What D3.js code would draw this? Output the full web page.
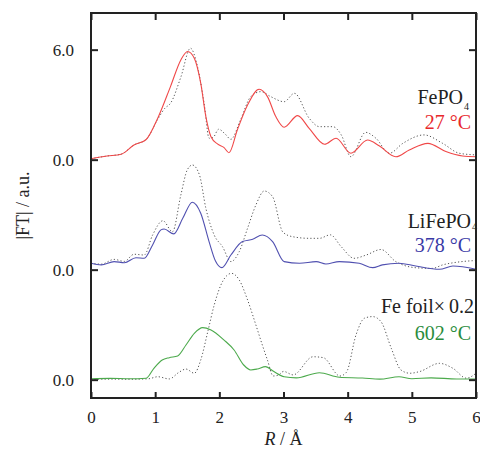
<!DOCTYPE html>
<html>
<head>
<meta charset="utf-8">
<script src="https://cdn.jsdelivr.net/npm/d3@7"></script>
<style>
  html, body { margin: 0; padding: 0; background: #fff; }
</style>
</head>
<body>
<svg id="chart" width="480" height="450"></svg>
<script>
// Fourier-transformed EXAFS magnitudes, stacked with vertical offsets.
// Solid: measured spectra; dotted: reference compounds.
const offsets = [12, 6, 0];

const fepoR   = [0, 0.25, 0.47, 0.67, 0.86, 1.04, 1.24, 1.4, 1.505, 1.61, 1.71, 1.79, 1.87, 1.97, 2.07, 2.15, 2.28, 2.44, 2.62, 2.75, 2.88, 3.01, 3.22, 3.4, 3.64, 3.82, 4.05, 4.31, 4.49, 4.75, 4.96, 5.25, 5.53, 5.79, 6.0];
const fepoVal = [0.05, 0.2, 0.3, 0.8, 1.1, 2.26, 4.0, 5.44, 5.9, 5.53, 4.17, 2.35, 1.25, 0.86, 0.67, 0.38, 1.62, 2.98, 3.84, 3.44, 2.35, 1.77, 2.4, 1.71, 0.84, 1.17, 0.35, 1.07, 0.76, 0.16, 0.53, 0.89, 0.44, 0.2, 0.16];

const fepoRefR   = [0, 0.25, 0.47, 0.67, 0.86, 1.04, 1.15, 1.24, 1.4, 1.55, 1.66, 1.77, 1.84, 1.9, 1.99, 2.09, 2.18, 2.33, 2.49, 2.65, 2.8, 3.01, 3.17, 3.4, 3.56, 3.77, 3.9, 4.05, 4.28, 4.44, 4.65, 4.86, 5.19, 5.48, 5.74, 6.0];
const fepoRefVal = [0.05, 0.2, 0.3, 0.8, 1.1, 2.2, 2.8, 3.08, 4.5, 6.08, 5.07, 2.9, 1.17, 1.2, 1.66, 1.4, 1.11, 2.17, 3.44, 3.71, 3.44, 3.16, 3.62, 2.26, 1.8, 1.8, 1.35, 0.16, 1.49, 1.17, 0.35, 0.89, 1.35, 0.89, 0.35, 0.26];

const lfpR   = [0, 0.16, 0.36, 0.52, 0.7, 0.83, 0.96, 1.09, 1.14, 1.29, 1.43, 1.58, 1.71, 1.84, 1.94, 2.04, 2.18, 2.36, 2.52, 2.67, 2.83, 3.01, 3.25, 3.51, 3.66, 3.87, 4.18, 4.39, 4.54, 4.8, 5.06, 5.43, 5.64, 6.0];
const lfpVal = [0.35, 0.26, 0.44, 0.38, 0.65, 0.62, 1.35, 2.17, 2.22, 1.95, 2.8, 3.68, 3.08, 1.53, 0.47, 0.11, 0.8, 1.53, 1.66, 1.89, 1.53, 0.44, 0.35, 0.44, 0.31, 0.44, 0.35, 0.11, 0.26, 0.35, 0.2, 0.02, 0.2, 0.02];

const lfpRefR   = [0, 0.16, 0.36, 0.52, 0.67, 0.83, 0.96, 1.12, 1.27, 1.4, 1.5, 1.58, 1.69, 1.79, 1.92, 2.05, 2.18, 2.31, 2.44, 2.57, 2.7, 2.83, 2.99, 3.14, 3.4, 3.56, 3.73, 3.9, 4.1, 4.29, 4.52, 4.75, 4.91, 5.08, 5.32, 5.48, 5.69, 6.0];
const lfpRefVal = [0.35, 0.3, 0.56, 0.45, 0.84, 0.8, 1.89, 2.67, 2.07, 4.07, 5.44, 5.71, 5.17, 3.35, 1.89, 1.25, 0.44, 0.98, 2.26, 3.53, 4.29, 3.98, 2.05, 1.8, 1.71, 1.71, 1.9, 1.25, 0.62, 0.8, 1.1, 0.44, 0.2, 0.1, 0.07, 0.26, 0.4, 0.5];

const feR   = [0, 0.3, 0.6, 0.86, 0.98, 1.11, 1.22, 1.35, 1.48, 1.61, 1.74, 1.87, 2.07, 2.23, 2.38, 2.49, 2.59, 2.72, 2.85, 3.01, 3.2, 3.56, 3.87, 4.23, 4.5, 4.8, 5.0, 5.3, 5.7, 6.0];
const feVal = [0.05, 0.07, 0.05, 0.08, 0.62, 1.07, 1.2, 1.29, 1.89, 2.53, 2.84, 2.71, 2.17, 1.62, 0.8, 0.53, 0.58, 0.71, 0.44, 0.16, 0.1, 0.38, 0.13, 0.09, 0.03, 0.16, 0.05, 0.1, 0.04, 0.04];

const feRefR   = [0, 0.3, 0.6, 0.9, 1.04, 1.22, 1.37, 1.48, 1.61, 1.71, 1.82, 1.92, 2.05, 2.19, 2.31, 2.44, 2.57, 2.67, 2.75, 2.84, 2.92, 3.0, 3.15, 3.46, 3.62, 3.88, 3.98, 4.13, 4.26, 4.39, 4.52, 4.68, 4.83, 4.97, 5.12, 5.43, 5.64, 5.85, 6.0];
const feRefVal = [0.02, 0.03, 0.02, 0.05, 0.16, 0.04, 0.4, 0.58, 0.35, 1.07, 2.62, 4.07, 5.35, 5.8, 5.44, 4.35, 2.98, 1.89, 1.07, 0.2, 0.25, 0.45, 0.26, 1.25, 1.2, 0.2, 0.4, 2.44, 3.35, 3.44, 3.16, 1.71, 0.53, 0.35, 0.44, 0.89, 0.62, 0.08, 0.35];

const xTicks = [0, 1, 2, 3, 4, 5, 6];
const yTicks = [0, 6, 12, 18];
const yTickLabels = ["0.0", "0.0", "0.0", "6.0"];

const names = ["FePO", "LiFePO", "Fe foil\u00d7\u20090.2"];
const subs = ["4", "4", ""];
const temps = ["27 \u00b0C", "378 \u00b0C", "602 \u00b0C"];

const series = [
  { r: fepoR, v: fepoVal, ref: [fepoRefR, fepoRefVal], color: "#f04848", text: "#e8282c" },
  { r: lfpR,  v: lfpVal,  ref: [lfpRefR,  lfpRefVal],  color: "#5050b0", text: "#3a3aa6" },
  { r: feR,   v: feVal,   ref: [feRefR,   feRefVal],   color: "#4caa4c", text: "#2a8c3c" }
];

const svg = d3.select("#chart");
const plotL = 91, plotR = 476, plotT = 13, plotB = 398;
const serif = "'Liberation Serif', 'Times New Roman', Tinos, 'DejaVu Serif', serif";

const x = d3.scaleLinear().domain([0, 6]).range([plotL, plotR]);
const y = d3.scaleLinear().domain([-1, 20]).range([plotB, plotT]);

const line = (off) => d3.line()
  .x(d => x(d[0]))
  .y(d => y(d[1] + off))
  .curve(d3.curveMonotoneX);

const plot = svg.append("g");

series.forEach((s, i) => {
  const off = offsets[i];
  const refPts = d3.zip(s.ref[0], s.ref[1]);
  const pts = d3.zip(s.r, s.v);
  plot.append("path")
    .datum(refPts)
    .attr("d", line(off))
    .attr("fill", "none")
    .attr("stroke", "#555")
    .attr("stroke-width", 1)
    .attr("stroke-dasharray", "1.2,2.2");
  plot.append("path")
    .datum(pts)
    .attr("d", line(off))
    .attr("fill", "none")
    .attr("stroke", s.color)
    .attr("stroke-width", 1.1);
});

// Axes with inward ticks
const axisStyle = g => {
  g.attr("font-family", null);
  g.select(".domain").remove();
  g.selectAll(".tick line").attr("stroke", "#222").attr("stroke-width", 2);
  g.selectAll(".tick text")
    .attr("fill", "#222")
    .style("font-size", "17px")
    .style("font-family", serif);
};

svg.append("g")
  .attr("transform", `translate(0,${plotB})`)
  .call(d3.axisBottom(x).tickValues(xTicks).tickFormat(d3.format("d"))
    .tickSizeInner(-6).tickSizeOuter(0).tickPadding(13))
  .call(axisStyle);

svg.append("g")
  .attr("transform", `translate(0,${plotT})`)
  .call(d3.axisTop(x).tickValues(xTicks).tickFormat("")
    .tickSizeInner(-7).tickSizeOuter(0))
  .call(axisStyle);

svg.append("g")
  .attr("transform", `translate(${plotL},0)`)
  .call(d3.axisLeft(y).tickValues(yTicks).tickFormat((d, i) => yTickLabels[i])
    .tickSizeInner(-7).tickSizeOuter(0).tickPadding(17))
  .call(axisStyle);

svg.append("g")
  .attr("transform", `translate(${plotR},0)`)
  .call(d3.axisRight(y).tickValues(yTicks).tickFormat("")
    .tickSizeInner(-7).tickSizeOuter(0))
  .call(axisStyle);

svg.append("rect")
  .attr("x", plotL).attr("y", plotT)
  .attr("width", plotR - plotL).attr("height", plotB - plotT)
  .attr("fill", "none")
  .attr("stroke", "#222")
  .attr("stroke-width", 2);

// Axis titles
svg.append("text")
  .attr("transform", `translate(29,${(plotT + plotB) / 2}) rotate(-90)`)
  .attr("text-anchor", "middle")
  .attr("fill", "#222")
  .style("font-family", serif)
  .style("font-size", "18px")
  .text("|FT| / a.u.");

const xt = svg.append("text")
  .attr("x", (plotL + plotR) / 2)
  .attr("y", 445)
  .attr("text-anchor", "middle")
  .attr("fill", "#222")
  .style("font-family", serif)
  .style("font-size", "18px");
xt.append("tspan").style("font-style", "italic").text("R");
xt.append("tspan").text(" / \u00c5");

// Series labels at the right edge
const labelPos = [
  { nameX: 463, nameY: 104, subDy: 6, tempY: 129 },
  { nameX: 471, nameY: 228, subDy: 2, tempY: 252 },
  { nameX: 474, nameY: 313, subDy: 0, tempY: 340 }
];

series.forEach((s, i) => {
  const p = labelPos[i];
  svg.append("text")
    .attr("x", p.nameX)
    .attr("y", p.nameY)
    .attr("text-anchor", "end")
    .attr("fill", "#222")
    .style("font-family", serif)
    .style("font-size", "20px")
    .text(names[i]);
  if (subs[i]) {
    svg.append("text")
      .attr("x", p.nameX + 1)
      .attr("y", p.nameY + p.subDy)
      .attr("fill", "#222")
      .style("font-family", serif)
      .style("font-size", "10px")
      .text(subs[i]);
  }
  svg.append("text")
    .attr("x", 471)
    .attr("y", p.tempY)
    .attr("text-anchor", "end")
    .attr("fill", s.text)
    .style("font-family", serif)
    .style("font-size", "20px")
    .text(temps[i]);
});
</script>
</body>
</html>
